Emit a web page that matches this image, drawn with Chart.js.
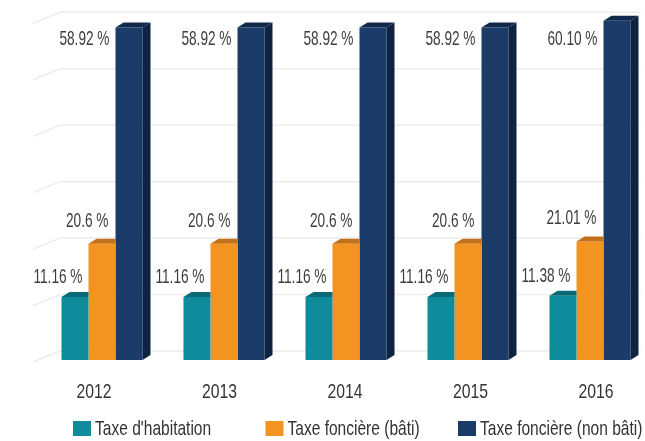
<!DOCTYPE html>
<html>
<head>
<meta charset="utf-8">
<script src="https://cdn.jsdelivr.net/npm/chart.js@4/dist/chart.umd.min.js"></script>
<style>
    html, body { margin: 0; padding: 0; background: #ffffff; overflow: hidden; }
    #wrap { width: 660px; height: 441px; }
</style>
</head>
<body>
<div id="wrap"><canvas id="chart"></canvas></div>
<script>
// Taux d'imposition locaux 2012-2016
const years = ['2012', '2013', '2014', '2015', '2016'];
const habitation = [11.16, 11.16, 11.16, 11.16, 11.38];
const fonciereBati = [20.6, 20.6, 20.6, 20.6, 21.01];
const fonciereNonBati = [58.92, 58.92, 58.92, 58.92, 60.10];

const habitationLabels = ['11.16 %', '11.16 %', '11.16 %', '11.16 %', '11.38 %'];
const fonciereBatiLabels = ['20.6 %', '20.6 %', '20.6 %', '20.6 %', '21.01 %'];
const fonciereNonBatiLabels = ['58.92 %', '58.92 %', '58.92 %', '58.92 %', '60.10 %'];

const FONT = '"Liberation Sans", Arial, sans-serif';
const DX = 8, DY = 5; // profondeur 3D

const topColors = ['#0a6b77', '#c4721a', '#112a4c'];
const sideColor = '#0f2240';

// texte condensé (police étroite simulée)
const narrowText = function (ctx, text, x, y, sx) {
    ctx.save();
    ctx.translate(x, y);
    ctx.scale(sx, 1);
    ctx.fillText(text, 0, 0);
    ctx.restore();
};

// grille "murale" derrière les barres
const wallGrid = {
    id: 'wallGrid',
    beforeDatasetsDraw: function (chart) {
        const ctx = chart.ctx;
        const y = chart.scales.y;
        const area = chart.chartArea;
        ctx.save();
        ctx.strokeStyle = '#ededed';
        ctx.lineWidth = 1.5;
        for (let v = 0; v <= 60; v += 10) {
            const py = y.getPixelForValue(v) - 9;
            ctx.beginPath();
            ctx.moveTo(area.left - 8, py + 11);
            ctx.lineTo(area.left + 19, py);
            ctx.lineTo(area.right - 10, py);
            ctx.stroke();
        }
        ctx.restore();
    }
};

// faces supérieures / latérales + étiquettes de valeurs
const bars3d = {
    id: 'bars3d',
    afterDatasetsDraw: function (chart) {
        const ctx = chart.ctx;
        ctx.save();
        chart.data.datasets.forEach(function (ds, di) {
            const meta = chart.getDatasetMeta(di);
            meta.data.forEach(function (bar) {
                const l = bar.x - bar.width / 2;
                const r = bar.x + bar.width / 2;
                ctx.fillStyle = topColors[di];
                ctx.beginPath();
                ctx.moveTo(l, bar.y);
                ctx.lineTo(l + DX, bar.y - DY);
                if (di === 2) {
                    ctx.lineTo(r + DX, bar.y - DY);
                    ctx.lineTo(r, bar.y);
                } else {
                    ctx.lineTo(r, bar.y - DY);
                    ctx.lineTo(r, bar.y);
                }
                ctx.closePath();
                ctx.fill();
                if (di === 2) {
                    ctx.fillStyle = sideColor;
                    ctx.beginPath();
                    ctx.moveTo(r, bar.y);
                    ctx.lineTo(r + DX, bar.y - DY);
                    ctx.lineTo(r + DX, bar.base - DY);
                    ctx.lineTo(r, bar.base);
                    ctx.closePath();
                    ctx.fill();
                }
            });
        });

        const y = chart.scales.y;
        const labelSets = [habitationLabels, fonciereBatiLabels, fonciereNonBatiLabels];
        ctx.font = '21px ' + FONT;
        ctx.fillStyle = '#3d3d3d';
        ctx.textAlign = 'right';
        ctx.textBaseline = 'middle';
        chart.data.datasets.forEach(function (ds, di) {
            const meta = chart.getDatasetMeta(di);
            meta.data.forEach(function (bar, i) {
                const l = bar.x - bar.width / 2;
                const r = bar.x + bar.width / 2;
                let tx, ty;
                if (di === 0) { tx = r - 6; ty = bar.y - 20; }
                else if (di === 1) { tx = r - 7; ty = bar.y - 23; }
                else { tx = l - 6; ty = y.getPixelForValue(56.9); }
                narrowText(ctx, labelSets[di][i], tx, ty, 0.65);
            });
        });
        ctx.restore();
    }
};

// années sous les groupes, avec la légère perspective de l'original
const yearLabels = {
    id: 'yearLabels',
    afterDraw: function (chart) {
        const ctx = chart.ctx;
        const x = chart.scales.x;
        const vp = 380;
        ctx.save();
        ctx.font = '21px ' + FONT;
        ctx.fillStyle = '#333333';
        ctx.textAlign = 'center';
        ctx.textBaseline = 'middle';
        years.forEach(function (lab, i) {
            const px = x.getPixelForTick(i);
            narrowText(ctx, lab, vp + (px - vp) * 1.0287, chart.chartArea.bottom + 32, 0.75);
        });
        ctx.restore();
    }
};

// légende dessinée à la main, colonnes régulières comme l'original
const bottomLegend = {
    id: 'bottomLegend',
    afterDraw: function (chart) {
        const ctx = chart.ctx;
        ctx.save();
        ctx.font = '21px ' + FONT;
        ctx.textAlign = 'left';
        ctx.textBaseline = 'middle';
        const cy = 429;
        chart.data.datasets.forEach(function (ds, i) {
            const x = 73 + 192.5 * i;
            ctx.fillStyle = ds.backgroundColor;
            ctx.fillRect(x, cy - 8, 18, 15);
            ctx.fillStyle = '#333333';
            narrowText(ctx, ds.label, x + 22, cy, 0.74);
        });
        ctx.restore();
    }
};

const ctx = document.getElementById('chart').getContext('2d');
new Chart(ctx, {
    type: 'bar',
    data: {
        labels: years,
        datasets: [
            { label: "Taxe d'habitation", data: habitation, backgroundColor: '#0f8b9b' },
            { label: 'Taxe foncière (bâti)', data: fonciereBati, backgroundColor: '#f39320' },
            { label: 'Taxe foncière (non bâti)', data: fonciereNonBati, backgroundColor: '#1b3c68' }
        ]
    },
    options: {
        responsive: true,
        maintainAspectRatio: false,
        animation: false,
        datasets: {
            bar: { categoryPercentage: 0.664, barPercentage: 1.0 }
        },
        layout: { padding: { left: 41, right: 9, top: 10, bottom: 81 } },
        plugins: {
            legend: { display: false },
            tooltip: { enabled: false }
        },
        scales: {
            x: { display: false },
            y: { display: false, min: 0, max: 62 }
        }
    },
    plugins: [wallGrid, bars3d, yearLabels, bottomLegend]
});
</script>
</body>
</html>
